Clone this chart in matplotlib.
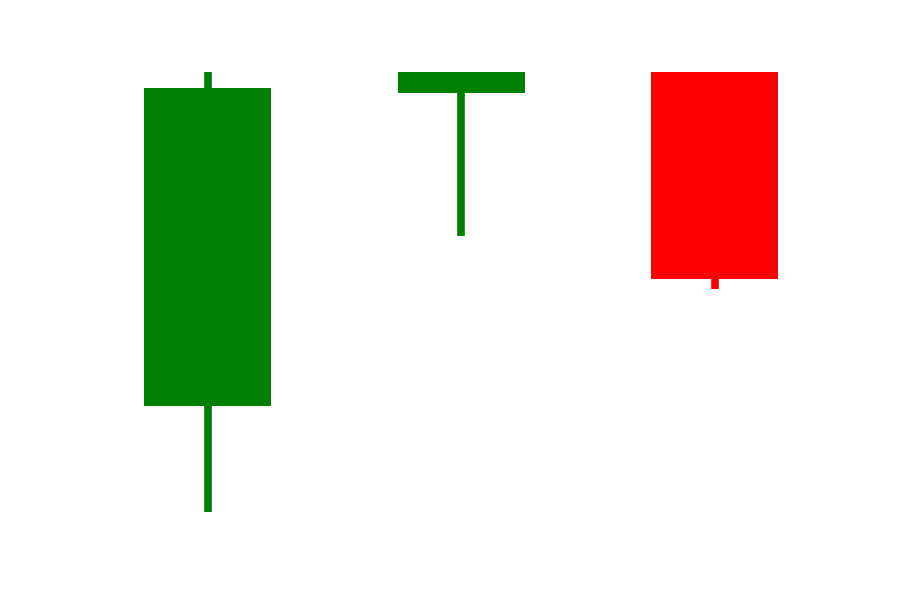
import matplotlib
matplotlib.use("Agg")
import matplotlib.pyplot as plt

# OHLC data
labels = ["C1", "C2", "C3"]
opens = [27.7, 95.5, 100.0]
highs = [100.0, 100.0, 100.0]
lows = [4.8, 64.5, 53.0]
closes = [96.5, 100.0, 55.2]

fig = plt.figure(figsize=(9, 6), dpi=100)
ax = fig.add_subplot(111)
x = list(range(len(labels)))
colors = ["green" if c >= o else "red" for o, c in zip(opens, closes)]

ax.vlines(x, lows, highs, colors=colors, linewidth=5.5, zorder=1)
bottoms = [min(o, c) for o, c in zip(opens, closes)]
heights = [abs(c - o) for o, c in zip(opens, closes)]
ax.bar(x, heights, bottom=bottoms, width=0.5, color=colors, zorder=2)

ax.set_xlim(-0.375, 2.375)
ax.set_ylim(0, 100)
ax.axis("off")
fig.savefig("out.png", dpi=100)
